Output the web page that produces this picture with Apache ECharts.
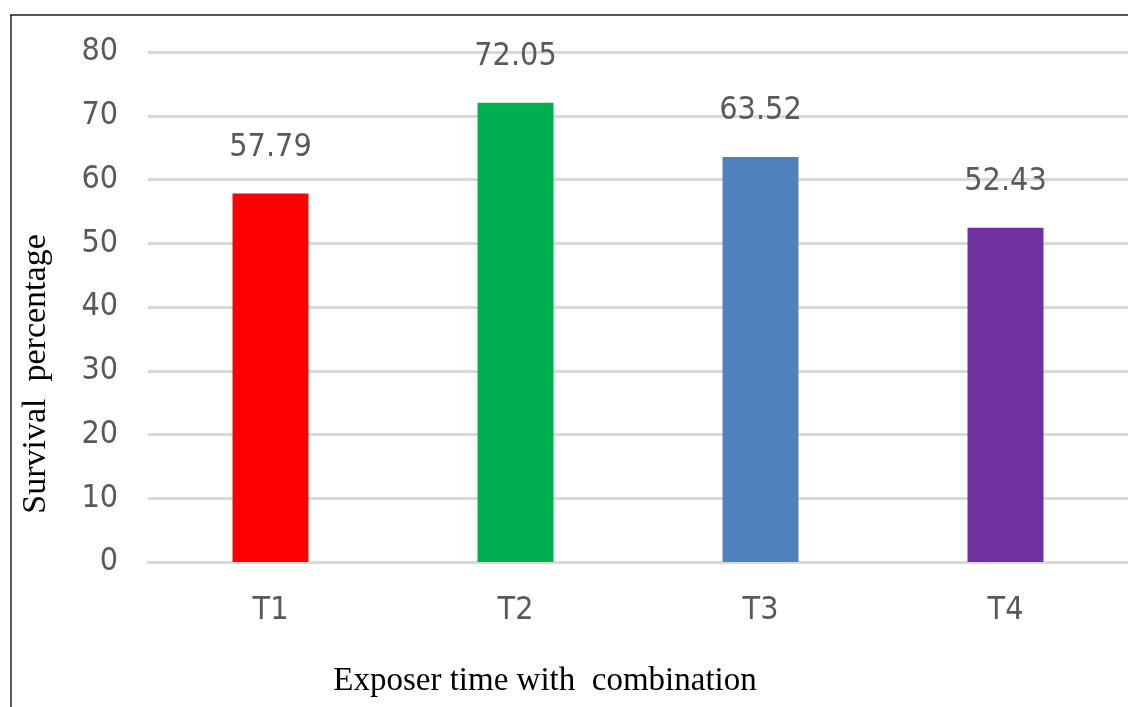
<!DOCTYPE html>
<html>
<head>
<meta charset="utf-8">
<script src="https://cdn.jsdelivr.net/npm/echarts@6/dist/echarts.min.js"></script>
<style>
html,body{margin:0;padding:0;background:#fff;}
#chart{width:1128px;height:707px;}
</style>
</head>
<body>
<div id="chart"></div>
<script>
const categories = ['T1', 'T2', 'T3', 'T4'];
const survival = [57.79, 72.05, 63.52, 52.43];
const barColors = ['#FF0000', '#00B050', '#4F81BD', '#7030A0'];
const yTicks = [0, 10, 20, 30, 40, 50, 60, 70, 80];

const sansFont = '"DejaVu Sans Condensed", "Open Sans", sans-serif';
const serifFont = '"Liberation Serif", "DejaVu Serif", serif';

const chart = echarts.init(document.getElementById('chart'));
chart.setOption({
  backgroundColor: '#fff',
  animation: false,
  grid: { left: 148, right: 0, top: 52, bottom: 145, containLabel: false },
  xAxis: {
    type: 'category',
    data: categories,
    name: 'Exposer time with  combination',
    nameLocation: 'middle',
    nameGap: 103,
    nameTextStyle: { fontFamily: serifFont, fontSize: 33, color: '#000', padding: [0, 186, 0, 0] },
    axisLine: { show: true, lineStyle: { color: '#d9d9d9', width: 3 } },
    axisTick: { show: false },
    axisLabel: { fontFamily: sansFont, fontSize: 32, color: '#595959', margin: 33 }
  },
  yAxis: {
    type: 'value',
    min: yTicks[0],
    max: yTicks[yTicks.length - 1],
    interval: 10,
    name: 'Survival  percentage',
    nameLocation: 'middle',
    nameGap: 95,
    nameRotate: 90,
    nameTextStyle: { fontFamily: serifFont, fontSize: 34, color: '#000', padding: [0, 134, 0, 0] },
    axisLine: { show: false },
    axisTick: { show: false },
    axisLabel: { fontFamily: sansFont, fontSize: 32, color: '#595959', margin: 30 },
    splitLine: { lineStyle: { color: '#d9d9d9', width: 3 } }
  },
  series: [{
    type: 'bar',
    data: survival.map((v, i) => ({ value: v, itemStyle: { color: barColors[i] } })),
    barWidth: '31%',
    label: {
      show: true,
      position: 'top',
      distance: 30,
      fontFamily: sansFont,
      fontSize: 32,
      color: '#595959',
      formatter: p => p.value.toFixed(2)
    }
  }],
  graphic: [
    { type: 'line', shape: { x1: 10, y1: 15, x2: 1128, y2: 15 }, style: { stroke: '#555', lineWidth: 2 } },
    { type: 'line', shape: { x1: 11, y1: 15, x2: 11, y2: 707 }, style: { stroke: '#222', lineWidth: 1.5 } }
  ]
});
</script>
</body>
</html>
